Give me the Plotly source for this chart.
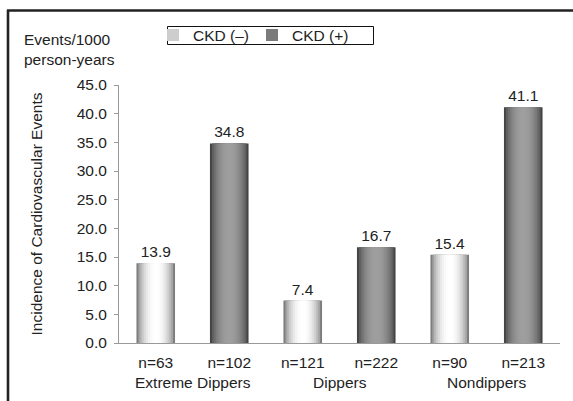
import plotly.graph_objects as go

# ---- data ----
groups = ["Extreme Dippers", "Dippers", "Nondippers"]
n_neg = ["n=63", "n=121", "n=90"]
n_pos = ["n=102", "n=222", "n=213"]
ckd_neg = [13.9, 7.4, 15.4]
ckd_pos = [34.8, 16.7, 41.1]
series_names = ["CKD (\u2013)", "CKD (+)"]
y_ticks = [0, 5, 10, 15, 20, 25, 30, 35, 40, 45]

# categories: one per bar (interleaved)
cats = []
for a, b in zip(n_neg, n_pos):
    cats += [a, b]
x_neg = n_neg
x_pos = n_pos

W, H = 573, 401
ML, MR, MT, MB = 119, 13, 85, 58
PW, PH = W - ML - MR, H - MT - MB
FONT = "Liberation Sans, Arial, sans-serif"
FS = 15.5
TXT = "#222222"


def px_x(p):
    return (p - ML) / PW


def px_y(p):
    return (H - MB - p) / PH


def mix(c1, c2, t):
    return "rgb(%d,%d,%d)" % tuple(round(a + (b - a) * t) for a, b in zip(c1, c2))


fig = go.Figure()
N = 10
BW = 0.525
styles = [
    (x_neg, ckd_neg, (125, 125, 125), (255, 255, 255), series_names[0]),
    (x_pos, ckd_pos, (68, 68, 68), (158, 158, 158), series_names[1]),
]
for xs, ys, edge, center, name in styles:
    for k in range(N):
        r = 1 - k / N
        rm = 1 - (k + 0.5) / N if k > 0 else 1.0
        t = 1 - rm ** 2.2
        col = mix(edge, center, t)
        fig.add_trace(go.Bar(
            x=xs, y=ys, width=BW * r, name=name,
            marker=dict(color=col, line=dict(width=0)),
            showlegend=(k == 3), legendgroup=name,
            text=[f"{v:.1f}" for v in ys] if k == 0 else None,
            textposition="outside" if k == 0 else "none",
            textfont=dict(family=FONT, size=FS, color=TXT),
            cliponaxis=False, hoverinfo="skip" if k else "x+y",
        ))

# group labels under the n= labels
annotations = []
for i, g in enumerate(groups):
    annotations.append(dict(
        x=2 * i + 0.5, xref="x", y=px_y(382), yref="paper",
        text=g, showarrow=False, xanchor="center", yanchor="middle",
        font=dict(family=FONT, size=FS, color=TXT)))
annotations.append(dict(
    x=px_x(22), xref="paper", y=px_y(50), yref="paper",
    text="Events/1000<br>person-years", showarrow=False, align="left",
    xanchor="left", yanchor="middle",
    font=dict(family=FONT, size=FS, color=TXT)))

shapes = [
    dict(type="line", xref="paper", yref="paper", x0=px_x(7), x1=px_x(573),
         y0=px_y(10.5), y1=px_y(10.5), line=dict(color="#222222", width=2.6)),
    dict(type="line", xref="paper", yref="paper", x0=px_x(8), x1=px_x(8),
         y0=px_y(10), y1=px_y(401), line=dict(color="#222222", width=2.6)),
    dict(type="rect", xref="paper", yref="paper", x0=px_x(167.5), x1=px_x(373.5),
         y0=px_y(26.5), y1=px_y(44.5), line=dict(color="#111111", width=1)),
]

fig.update_layout(
    width=W, height=H,
    margin=dict(l=ML, r=MR, t=MT, b=MB, autoexpand=False),
    paper_bgcolor="white", plot_bgcolor="white",
    barmode="overlay",
    font=dict(family=FONT, size=FS, color=TXT),
    showlegend=True,
    legend=dict(orientation="h", x=px_x(153), y=px_y(18.5), xanchor="left", yanchor="top",
                borderwidth=0, bgcolor="rgba(0,0,0,0)",
                font=dict(family=FONT, size=FS, color=TXT),
                entrywidth=54, entrywidthmode="pixels", itemclick=False,
                tracegroupgap=0),
    xaxis=dict(type="category", categoryorder="array", categoryarray=cats,
               range=[-0.5, 5.5], showline=True, linecolor="#9a9a9a", linewidth=1,
               ticks="", showgrid=False, zeroline=False, automargin=False,
               ticklabelstandoff=5,
               tickfont=dict(family=FONT, size=FS, color=TXT)),
    xaxis2=dict(overlaying="x", anchor="y", range=[-0.5, 5.5], tickvals=[1.5, 3.5],
                ticks="inside", ticklen=6, tickcolor="#9a9a9a", tickwidth=1,
                showticklabels=False, showgrid=False, zeroline=False, showline=False,
                side="bottom", automargin=False),
    yaxis=dict(range=[0, 45], tickvals=y_ticks, tickformat=".1f",
               showline=True, linecolor="#9a9a9a", linewidth=1,
               ticks="outside", ticklen=4, tickcolor="#9a9a9a", tickwidth=1,
               showgrid=False, zeroline=False, ticklabelstandoff=4, automargin=False,
               title=dict(text="Incidence of Cardiovascular Events", standoff=30,
                          font=dict(family=FONT, size=FS, color=TXT)),
               tickfont=dict(family=FONT, size=FS, color=TXT)),
    annotations=annotations,
    shapes=shapes,
)

fig.write_html("out.html", config={"displayModeBar": False},
               post_script="document.body.style.margin='0';document.body.style.padding='0';")
